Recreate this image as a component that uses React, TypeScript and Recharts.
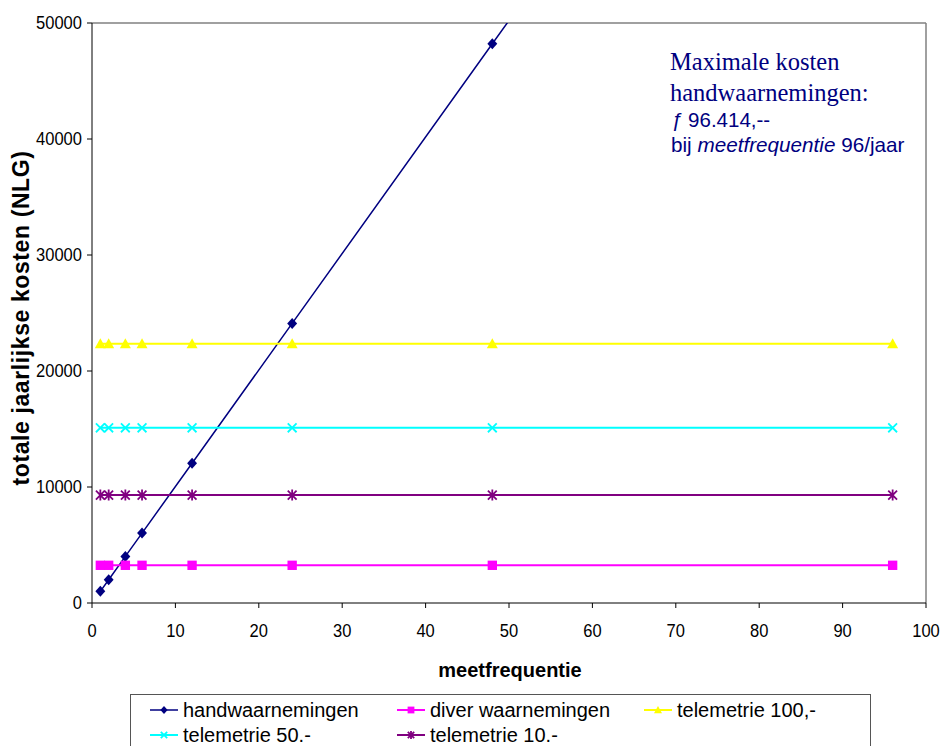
import { LineChart, Line, XAxis, YAxis, ReferenceLine } from "recharts";

// measurement frequency per year
const frequencies = [1, 2, 4, 6, 12, 24, 48, 96];

// yearly total cost (NLG) per method
const handwaarnemingen = [1004, 2009, 4017, 6026, 12052, 24104, 48207, 96414];
const diverWaarnemingen = [3250, 3250, 3250, 3250, 3250, 3250, 3250, 3250];
const telemetrie100 = [22350, 22350, 22350, 22350, 22350, 22350, 22350, 22350];
const telemetrie50 = [15100, 15100, 15100, 15100, 15100, 15100, 15100, 15100];
const telemetrie10 = [9300, 9300, 9300, 9300, 9300, 9300, 9300, 9300];

const xTicks = [0, 10, 20, 30, 40, 50, 60, 70, 80, 90, 100];
const yTicks = [0, 10000, 20000, 30000, 40000, 50000];

const rows = frequencies.map((f, i) => ({
  f,
  hand: handwaarnemingen[i],
  diver: diverWaarnemingen[i],
  t100: telemetrie100[i],
  t50: telemetrie50[i],
  t10: telemetrie10[i],
}));

const NAVY = "#000080";
const MAGENTA = "#FF00FF";
const YELLOW = "#FFFF00";
const CYAN = "#00FFFF";
const PURPLE = "#800080";

const SANS = "'Liberation Sans', Arial, sans-serif";
const SERIF = "'Liberation Serif', 'Times New Roman', serif";

type Shape = "diamond" | "square" | "triangle" | "cross" | "star";

function marker(shape: Shape, color: string, cx: number, cy: number, s: number, key?: string) {
  switch (shape) {
    case "diamond":
      return (
        <path key={key} d={`M${cx},${cy - s}L${cx + s * 0.9},${cy}L${cx},${cy + s}L${cx - s * 0.9},${cy}Z`} fill={color} />
      );
    case "square":
      return <rect key={key} x={cx - s * 0.85} y={cy - s * 0.85} width={s * 1.7} height={s * 1.7} fill={color} />;
    case "triangle":
      return (
        <path key={key} d={`M${cx},${cy - s}L${cx + s},${cy + s * 0.8}L${cx - s},${cy + s * 0.8}Z`} fill={color} />
      );
    case "cross":
      return (
        <path
          key={key}
          d={`M${cx - s * 0.8},${cy - s * 0.8}L${cx + s * 0.8},${cy + s * 0.8}M${cx - s * 0.8},${cy + s * 0.8}L${cx + s * 0.8},${cy - s * 0.8}`}
          stroke={color}
          strokeWidth={1.8}
          fill="none"
        />
      );
    case "star":
      return (
        <path
          key={key}
          d={`M${cx - s * 0.8},${cy - s * 0.8}L${cx + s * 0.8},${cy + s * 0.8}M${cx - s * 0.8},${cy + s * 0.8}L${cx + s * 0.8},${cy - s * 0.8}M${cx},${cy - s}L${cx},${cy + s}`}
          stroke={color}
          strokeWidth={1.8}
          fill="none"
        />
      );
  }
}

const dotFor = (shape: Shape, color: string) => (p: any) =>
  marker(shape, color, p.cx, p.cy, 5.5, `dot-${shape}-${p.index}`);

const YTick = ({ x, y, payload }: any) => (
  <g transform={`translate(${x},${y})`}>
    <text textAnchor="end" dominantBaseline="central" transform="scale(0.87,1)" fontSize={19} fontFamily={SANS} fill="#000">
      {payload.value}
    </text>
  </g>
);

const XTick = ({ x, y, payload }: any) => (
  <g transform={`translate(${x},${y})`}>
    <text textAnchor="middle" y={14} transform="scale(0.87,1)" fontSize={19} fontFamily={SANS} fill="#000">
      {payload.value}
    </text>
  </g>
);

const series = [
  { key: "hand", name: "handwaarnemingen", color: NAVY, shape: "diamond" as Shape, width: 1.5 },
  { key: "diver", name: "diver waarnemingen", color: MAGENTA, shape: "square" as Shape, width: 2 },
  { key: "t100", name: "telemetrie 100,-", color: YELLOW, shape: "triangle" as Shape, width: 2 },
  { key: "t50", name: "telemetrie 50.-", color: CYAN, shape: "cross" as Shape, width: 2 },
  { key: "t10", name: "telemetrie 10.-", color: PURPLE, shape: "star" as Shape, width: 2 },
];

// legend grid: 3 columns, 2 rows
const legendCols = [150, 397, 644];
const legendRows = [710, 735];

export default function App() {
  return (
    <div style={{ position: "absolute", left: 0, top: 0, width: 941, height: 746, background: "#fff", overflow: "hidden" }}>
      <LineChart width={941} height={746} data={rows} margin={{ top: 23, right: 15, bottom: 113, left: 32 }}>
        <XAxis
          dataKey="f"
          type="number"
          domain={[0, 100]}
          ticks={xTicks}
          interval={0}
          height={30}
          stroke="#000"
          tickSize={5}
          tickMargin={15}
          tick={<XTick />}
        />
        <YAxis
          type="number"
          domain={[0, 50000]}
          ticks={yTicks}
          interval={0}
          allowDataOverflow
          width={60}
          stroke="#000"
          tickSize={5}
          tickMargin={5}
          tick={<YTick />}
        />
        <ReferenceLine y={50000} stroke="#808080" strokeWidth={1.5} />
        <ReferenceLine x={100} stroke="#808080" strokeWidth={1.5} />
        {series.map((s) => (
          <Line
            key={s.key}
            dataKey={s.key}
            name={s.name}
            type="linear"
            stroke={s.color}
            strokeWidth={s.width}
            dot={dotFor(s.shape, s.color)}
            activeDot={false}
            isAnimationActive={false}
          />
        ))}
      </LineChart>

      <svg width={941} height={746} style={{ position: "absolute", left: 0, top: 0, pointerEvents: "none" }}>
        {/* axis titles */}
        <text
          x={21}
          y={318}
          transform="rotate(-90 21 318)"
          textAnchor="middle"
          dominantBaseline="central"
          fontFamily={SANS}
          fontWeight="bold"
          fontSize={23}
          letterSpacing={0.6}
        >
          totale jaarlijkse kosten (NLG)
        </text>
        <text x={510} y={677} textAnchor="middle" fontFamily={SANS} fontWeight="bold" fontSize={20}>
          meetfrequentie
        </text>

        {/* note in the upper right */}
        <g fill={NAVY}>
          <text x={670} y={70} fontFamily={SERIF} fontSize={24.5}>Maximale kosten</text>
          <text x={670} y={101} fontFamily={SERIF} fontSize={24.5}>handwaarnemingen:</text>
          <text x={671} y={127} fontFamily={SANS} fontSize={20.5}>
            <tspan fontStyle="italic">ƒ</tspan> 96.414,--
          </text>
          <text x={671} y={152} fontFamily={SANS} fontSize={20.7}>
            bij <tspan fontStyle="italic">meetfrequentie</tspan> 96/jaar
          </text>
        </g>

        {/* legend */}
        <rect x={130.5} y={694.5} width={740} height={80} fill="#fff" stroke="#555" strokeWidth={1} />
        {series.map((s, i) => {
          const lx = legendCols[i % 3];
          const ly = legendRows[Math.floor(i / 3)];
          return (
            <g key={s.key}>
              <line x1={lx} y1={ly} x2={lx + 28} y2={ly} stroke={s.color} strokeWidth={s.width} />
              {marker(s.shape, s.color, lx + 14, ly, 4)}
              <text x={lx + 33} y={ly + 7} fontFamily={SANS} fontSize={20} fill="#000">
                {s.name}
              </text>
            </g>
          );
        })}
      </svg>
    </div>
  );
}
